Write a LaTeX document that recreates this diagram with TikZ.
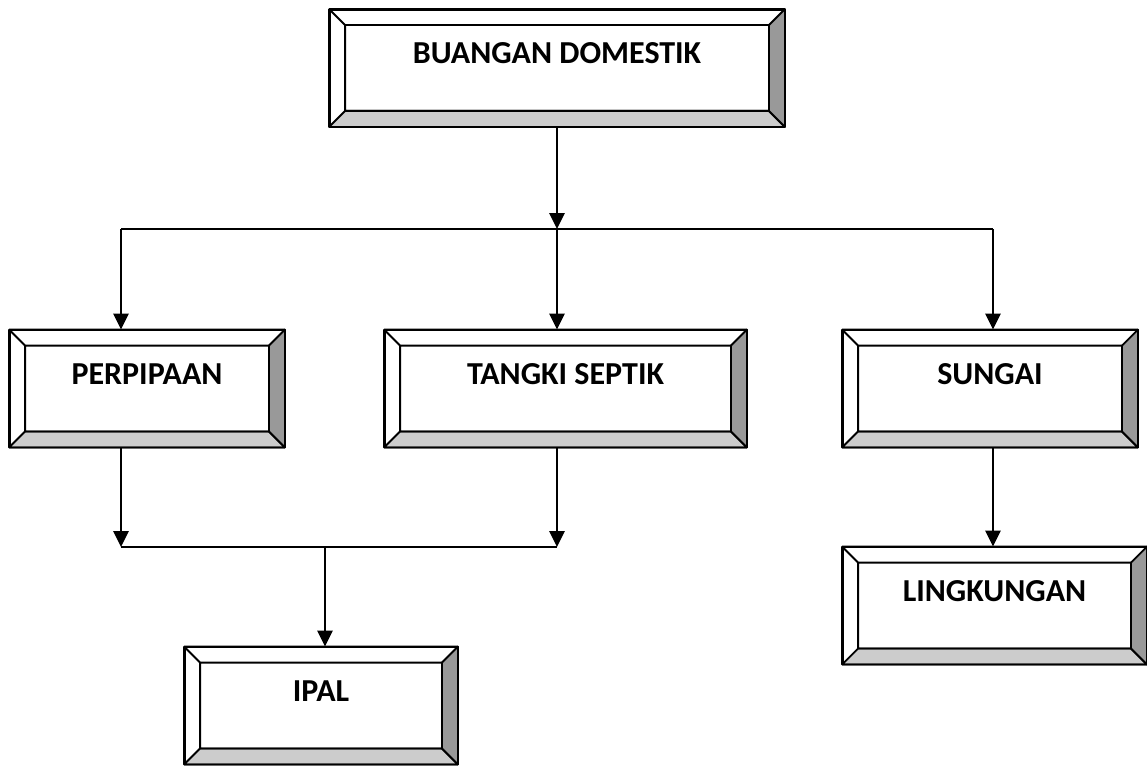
\documentclass[tikz,border=0pt]{standalone}
\usepackage{fontspec}
\setmainfont{Carlito}
\usepackage{tikz}
\usetikzlibrary{arrows.meta, positioning, calc}
\definecolor{bevelgray}{HTML}{CCCCCC}
\definecolor{beveldark}{HTML}{999999}

\tikzset{
  bevelbox/.style={draw, line width=1.8pt, minimum height=116pt, inner sep=0pt,
    font=\fontsize{32}{36}\selectfont\bfseries, text height=18pt, text depth=27pt},
  flow/.style={line width=2.8pt, -{Triangle[length=16pt, width=15pt]}},
  link/.style={line width=2.8pt}
}

% bevel faces of a box
\newcommand{\bevel}[1]{%
  \coordinate (#1-a) at ([shift={(16pt,16pt)}]#1.south west);
  \coordinate (#1-b) at ([shift={(-16pt,16pt)}]#1.south east);
  \coordinate (#1-c) at ([shift={(-16pt,-16pt)}]#1.north east);
  \coordinate (#1-d) at ([shift={(16pt,-16pt)}]#1.north west);
  \filldraw[fill=bevelgray, line width=1.8pt, line join=round]
    (#1.south west) -- (#1.south east) -- (#1-b) -- (#1-a) -- cycle;
  \filldraw[fill=beveldark, line width=1.8pt, line join=round]
    (#1.south east) -- (#1.north east) -- (#1-c) -- (#1-b) -- cycle;
  \draw[line width=1.8pt, line join=round]
    (#1.north west) -- (#1-d) (#1-a) rectangle (#1-c) (#1.north west) rectangle (#1.south east);
}

\begin{document}
\begin{tikzpicture}[x=1pt, y=-1pt]
  \useasboundingbox (0,0) rectangle (1147,765);

  \node[bevelbox, minimum width=454pt] (domestik) at (557,68) {BUANGAN DOMESTIK};
  \node[bevelbox, minimum width=274pt] (pipa) at (147,388.5) {PERPIPAAN};
  \node[bevelbox, minimum width=361pt] (septik) at (565.5,388.5) {TANGKI SEPTIK};
  \node[bevelbox, minimum width=294pt] (sungai) at (990,388.5) {SUNGAI};
  \node[bevelbox, minimum width=303pt] (lingkungan) at (994.5,605.5) {LINGKUNGAN};
  \node[bevelbox, minimum width=272pt] (ipal) at (321,705.5) {IPAL};

  \bevel{domestik}
  \bevel{pipa}
  \bevel{septik}
  \bevel{sungai}
  \bevel{lingkungan}
  \bevel{ipal}

  \coordinate (cabang) at (557,229);
  \coordinate (cabangL) at (121,229);
  \coordinate (cabangR) at (993,229);
  \coordinate (gabungL) at (121,547);
  \coordinate (gabungR) at (557,547);
  \coordinate (gabung) at (325,547);

  \draw[flow] (domestik.south -| cabang) -- (cabang);
  \draw[link] (cabangL) -- (cabangR);
  \draw[flow] (cabangL) -- (cabangL |- pipa.north);
  \draw[flow] (cabang) -- (cabang |- septik.north);
  \draw[flow] (cabangR) -- (cabangR |- sungai.north);

  \draw[flow] (gabungL |- pipa.south) -- (gabungL);
  \draw[flow] (gabungR |- septik.south) -- (gabungR);
  \draw[link] (gabungL) -- (gabungR);
  \draw[flow] (gabung) -- (gabung |- ipal.north);
  \draw[flow] (cabangR |- sungai.south) -- (cabangR |- lingkungan.north);
\end{tikzpicture}
\end{document}
